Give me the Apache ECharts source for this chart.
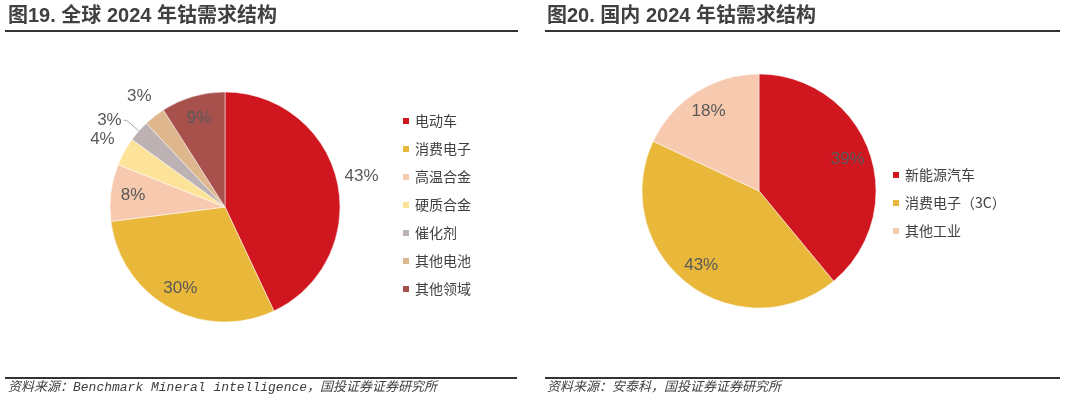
<!DOCTYPE html>
<html>
<head>
<meta charset="utf-8">
<script src="https://cdn.jsdelivr.net/npm/echarts@6/dist/echarts.min.js"></script>
<style>
    html, body {margin: 0; padding: 0; background: #fff;}
    #main {width: 1067px; height: 403px;}
</style>
</head>
<body>
<div id="main"></div>
<script>
// 图19 全球2024年钴需求结构
var leftNames = ['电动车', '消费电子', '高温合金', '硬质合金', '催化剂', '其他电池', '其他领域'];
var leftValues = [43, 30, 8, 4, 3, 3, 9];
// 图20 国内2024年钴需求结构
var rightNames = ['新能源汽车', '消费电子（3C）', '其他工业'];
var rightValues = [39, 43, 18];

var leftColors = ['#D0161E', '#E9B73A', '#F7C9AE', '#FDE29A', '#BCB2B3', '#DFB78F', '#A8504B'];
var rightColors = ['#D0161E', '#E9B73A', '#F7C9AE'];

// 标签放在饼图外侧的扇区
var leftOuter = ['电动车', '硬质合金', '其他电池'];
var leftLeader = ['催化剂'];

var labelFont = '"Liberation Sans", Arial, sans-serif';
var cnFont = '"Noto Sans CJK SC", sans-serif';

// 简单的对象合并
var $ = {
    extend: function (a, b) {
        var o = {}, k;
        for (k in b) o[k] = b[k];
        for (k in a) o[k] = a[k];
        return o;
    }
};

function pieSeries(names, values, colors, center, r, outer, leader) {
    var labelStyle = {
        formatter: '{c}%',
        color: '#595959',
        fontSize: 17,
        fontFamily: labelFont
    };
    var main = {
        type: 'pie',
        center: center,
        radius: r,
        startAngle: 90,
        clockwise: true,
        avoidLabelOverlap: false,
        itemStyle: {borderColor: '#fff', borderWidth: 0.5},
        label: $.extend({position: 'outside', distanceToLabelLine: 2, padding: [0, 0, 14, 0]}, labelStyle),
        labelLine: {length: 16, length2: 3, lineStyle: {color: '#A6A6A6', width: 1}},
        emphasis: {scale: false},
        data: names.map(function (n, i) {
            var on = leader.indexOf(n) >= 0;
            return {name: n, value: values[i], itemStyle: {color: colors[i]},
                label: {show: on}, labelLine: {show: on}};
        })
    };
    // 只用来放标签的透明环
    var inner = {
        type: 'pie',
        center: center,
        radius: [r * 0.56, r],
        silent: true,
        avoidLabelOverlap: false,
        labelLayout: {hideOverlap: false},
        itemStyle: {color: 'transparent', borderWidth: 0},
        label: $.extend({position: 'inside'}, labelStyle),
        labelLine: {show: false},
        data: names.map(function (n, i) {
            var on = outer.indexOf(n) < 0 && leader.indexOf(n) < 0;
            return {name: n, value: values[i], label: {show: on}};
        })
    };
    var ring = {
        type: 'pie',
        center: center,
        radius: [r * 1.14, r * 1.24],
        silent: true,
        avoidLabelOverlap: false,
        labelLayout: {hideOverlap: false},
        itemStyle: {color: 'transparent', borderWidth: 0},
        label: $.extend({position: 'inside'}, labelStyle),
        labelLine: {show: false},
        data: names.map(function (n, i) {
            return {name: n, value: values[i], label: {show: outer.indexOf(n) >= 0}};
        })
    };
    return [main, inner, ring];
}

var legendText = {color: '#404040', fontSize: 14, fontFamily: cnFont};

var option = {
    animation: false,
    backgroundColor: '#fff',
    legend: [
        {
            data: leftNames,
            orient: 'vertical',
            left: 401,
            top: 114,
            padding: 0,
            icon: 'rect',
            itemWidth: 8,
            itemHeight: 8,
            itemGap: 14,
            textStyle: legendText
        },
        {
            data: rightNames,
            orient: 'vertical',
            left: 891,
            top: 168,
            padding: 0,
            icon: 'rect',
            itemWidth: 8,
            itemHeight: 8,
            itemGap: 14,
            textStyle: legendText
        }
    ],
    series: [].concat(
        pieSeries(leftNames, leftValues, leftColors, [225, 207], 115, leftOuter, leftLeader),
        pieSeries(rightNames, rightValues, rightColors, [759, 191], 117, [], [])
    ),
    graphic: [
        {type: 'text', left: 8, top: 6, style: {text: '图19. 全球 2024 年钴需求结构', fill: '#404040',
            font: 'bold 20px "Liberation Sans", "Noto Sans CJK SC", sans-serif'}},
        {type: 'text', left: 547, top: 6, style: {text: '图20. 国内 2024 年钴需求结构', fill: '#404040',
            font: 'bold 20px "Liberation Sans", "Noto Sans CJK SC", sans-serif'}},
        {type: 'line', shape: {x1: 5, y1: 31, x2: 518, y2: 31}, style: {stroke: '#333', lineWidth: 2}},
        {type: 'line', shape: {x1: 545, y1: 31, x2: 1060, y2: 31}, style: {stroke: '#333', lineWidth: 2}},
        {type: 'line', shape: {x1: 5, y1: 378, x2: 517, y2: 378}, style: {stroke: '#333', lineWidth: 2}},
        {type: 'line', shape: {x1: 545, y1: 378, x2: 1060, y2: 378}, style: {stroke: '#333', lineWidth: 2}},
        {type: 'text', left: 8, top: 381, style: {text: '资料来源：Benchmark Mineral intelligence，国投证券证券研究所',
            fill: '#404040', font: 'italic 13px "Liberation Mono", "Noto Sans CJK SC", monospace'}},
        {type: 'text', left: 547, top: 381, style: {text: '资料来源：安泰科，国投证券证券研究所',
            fill: '#404040', font: 'italic 13px "Liberation Mono", "Noto Sans CJK SC", monospace'}}
    ]
};

var myChart = echarts.init(document.getElementById('main'));
myChart.setOption(option);
</script>
</body>
</html>
